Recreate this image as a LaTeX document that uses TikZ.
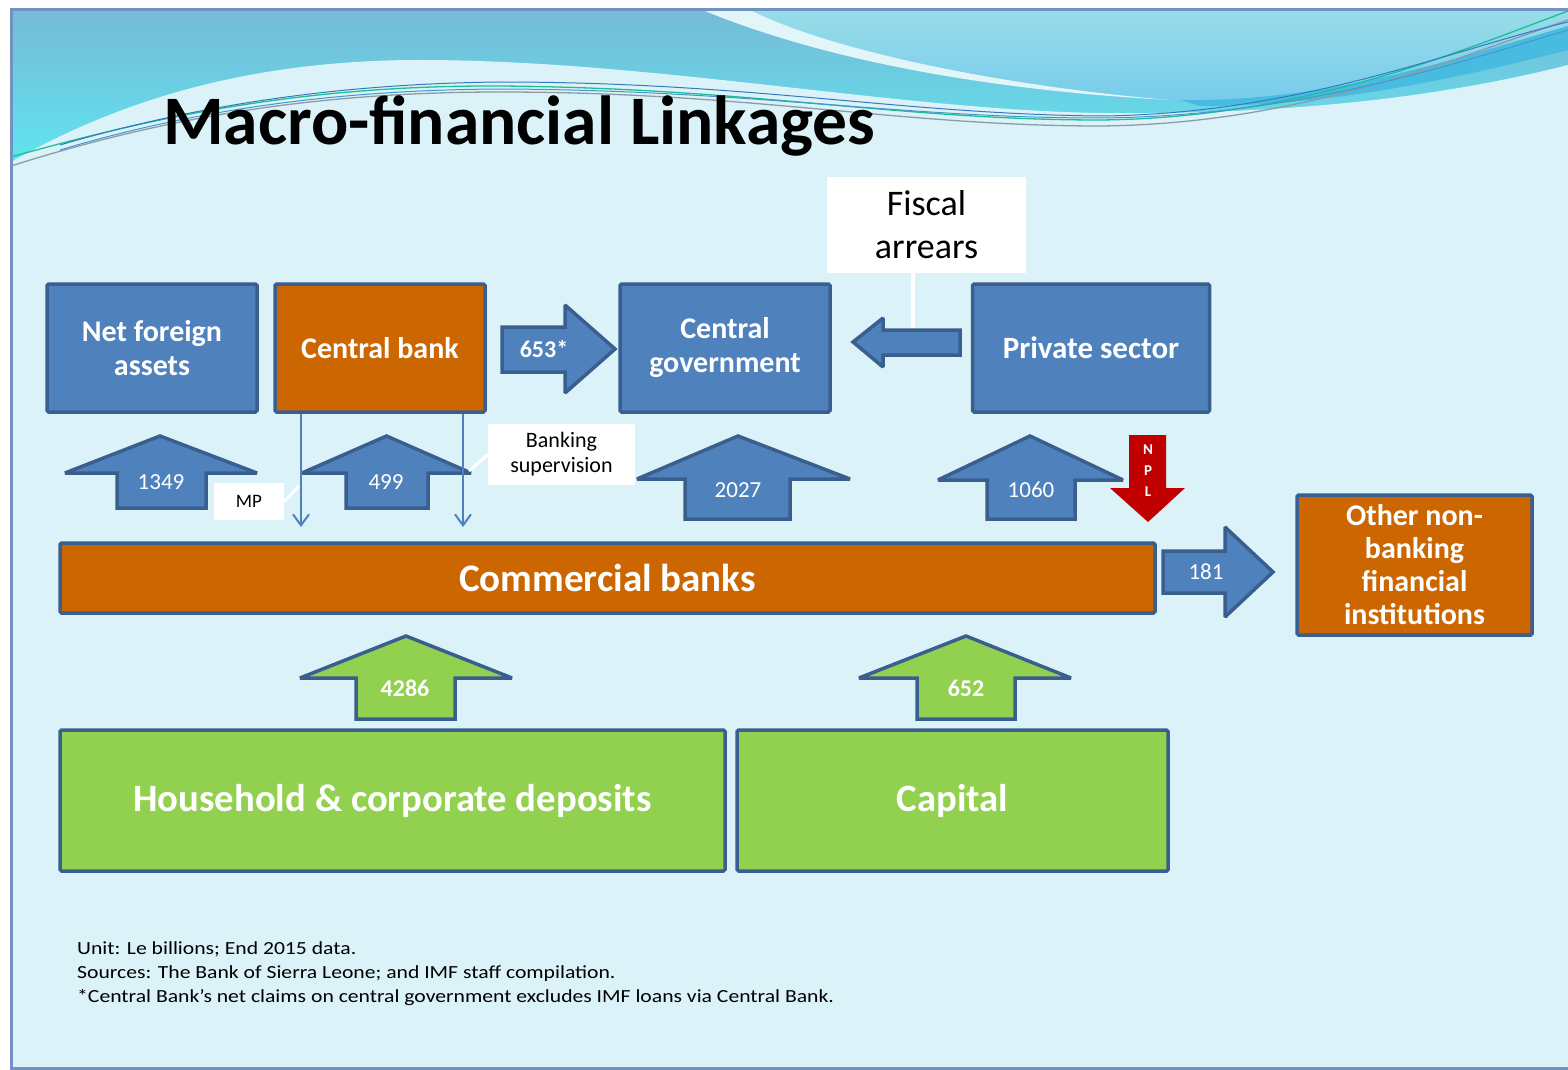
\documentclass[tikz,border=0pt]{standalone}
\usepackage{fontspec}
\setmainfont{Carlito}
\usetikzlibrary{arrows.meta}
\definecolor{bg}{HTML}{DBF3F8}
\definecolor{blu}{HTML}{4F81BD}
\definecolor{bdr}{HTML}{3A5F8E}
\definecolor{org}{HTML}{CC6600}
\definecolor{grn}{HTML}{92D050}
\definecolor{nplred}{HTML}{C00000}
\definecolor{framec}{HTML}{7392C4}
\definecolor{hdrtop}{HTML}{76BBD6}
\definecolor{hdrbot}{HTML}{5EE6F1}
\definecolor{skytop}{HTML}{97DDE8}
\definecolor{skybot}{HTML}{78CBEC}
\definecolor{bandc}{HTML}{48BCE0}
\definecolor{swoosh}{HTML}{E2F6F9}
\tikzset{
  boxbase/.style={draw=bdr, line width=3.5pt, rounded corners=1.5pt, text=white, align=center, inner sep=0pt,
    font=\bfseries\fontsize{30}{34}\selectfont},
  bluebox/.style={boxbase, fill=blu},
  orgbox/.style={boxbase, fill=org},
  grnbox/.style={boxbase, fill=grn, font=\bfseries\fontsize{38.7}{42}\selectfont},
  whitebox/.style={fill=white, text=black, align=center, inner sep=0pt},
  blockarr/.style={draw=bdr, line width=3.5pt, fill=blu, line join=miter, miter limit=2},
  greenarr/.style={blockarr, fill=grn},
  numlbl/.style={text=white, font=\fontsize{23}{26}\selectfont, inner sep=0pt},
  boldnum/.style={text=white, font=\bfseries\fontsize{24}{26}\selectfont, inner sep=0pt},
  vline/.style={draw=blu, line width=2pt, -{Straight Barb[length=11pt,width=16pt,line width=2pt]}},
  callout/.style={draw=white, line width=3pt},
  foot/.style={anchor=west, inner sep=0pt, font=\fontsize{18.5}{20}\selectfont}
}
\newcommand{\footx}[1]{\scalebox{1.17}[1]{#1}}
\begin{document}
\begin{tikzpicture}[x=1pt,y=-1pt]
\useasboundingbox (0,0) rectangle (1568,1070);
\fill[white] (0,0) rectangle (1568,1070);
\fill[bg] (11,11) rectangle (1568,1068);
% ---------- header waves ----------
\begin{scope}
\clip (11,11) rectangle (1568,200);
\shade[top color=hdrtop, bottom color=hdrbot] (11,11) rectangle (1568,170);
\shade[top color=skytop, bottom color=skybot] (722,11) .. controls (850,60) and (1000,95) .. (1180,100)
   .. controls (1330,102) and (1450,60) .. (1568,26) -- (1568,11) -- cycle;
\fill[bandc] (1180,100) .. controls (1330,102) and (1450,60) .. (1568,26) -- (1568,50)
   .. controls (1450,80) and (1330,106) .. (1200,106) -- cycle;
\fill[swoosh] (705,11) .. controls (800,50) and (950,88) .. (1170,100)
   .. controls (1000,86) and (830,50) .. (752,11) -- cycle;
\fill[bg] (11,162) .. controls (120,100) and (250,60) .. (420,60)
   .. controls (650,60) and (900,110) .. (1100,113)
   .. controls (1300,115) and (1450,95) .. (1568,65) -- (1568,210) -- (11,210) -- cycle;
\draw[color={rgb,255:red,30;green,190;blue,150}, line width=1.3pt]
  (11,157) .. controls (150,118) and (300,85) .. (500,86) .. controls (750,88) and (900,120) .. (1100,120)
  .. controls (1300,118) and (1450,55) .. (1568,11);
\draw[color={rgb,255:red,140;green,155;blue,165}, line width=1.3pt]
  (11,166) .. controls (150,122) and (300,92) .. (500,92) .. controls (750,92) and (900,126) .. (1100,126)
  .. controls (1300,124) and (1450,60) .. (1568,20);
\draw[color={rgb,255:red,55;green,120;blue,195}, line width=1pt]
  (60,145) .. controls (180,110) and (320,84) .. (500,82) .. controls (750,82) and (900,114) .. (1100,116)
  .. controls (1300,114) and (1450,50) .. (1568,22);
\draw[color={rgb,255:red,70;green,150;blue,205}, line width=1pt]
  (60,150) .. controls (180,114) and (320,90) .. (500,89) .. controls (750,90) and (900,118) .. (1100,118)
  .. controls (1300,116) and (1450,65) .. (1568,30);
\end{scope}
\draw[framec, line width=3pt] (1570,10) -- (11,10) -- (11,1068) -- (1570,1068);
% ---------- title ----------
\node[anchor=base west, inner sep=0pt, font=\bfseries\fontsize{69.5}{72}\selectfont] (title) at (163,145) {Macro-financial Linkages};
% ---------- top boxes ----------
\node[bluebox, minimum width=210pt, minimum height=128pt] (nfa) at (152,348) {Net foreign\\assets};
\node[orgbox, minimum width=210pt, minimum height=128pt] (cb) at (380,348) {Central bank};
\node[bluebox, minimum width=210pt, minimum height=128pt] (cg) at (725,348) {Central\\government};
\node[bluebox, minimum width=237pt, minimum height=128pt, font=\bfseries\fontsize{31}{34}\selectfont] (ps) at (1091,348) {Private sector};
\node[whitebox, minimum width=199pt, minimum height=96pt, font=\fontsize{36}{43}\selectfont] (fa) at (926.5,225) {Fiscal\\arrears};
% fiscal arrears callout and arrow
\coordinate (fx) at (913,330);
\draw[callout, line width=4pt] (fa.south -| fx) -- (fx);
\draw[blockarr] (960,330) -- (883,330) -- (883,318) -- (853,342) -- (883,367) -- (883,355) -- (960,355) -- cycle;
% 653* arrow
\draw[blockarr] (502,327) -- (565,327) -- (565,305) -- (615,349) -- (565,393) -- (565,372) -- (502,372) -- cycle;
\node[boldnum] (n653) at (544,349) {653*};
% ---------- commercial banks row ----------
\node[orgbox, minimum width=1095pt, minimum height=70pt, font=\bfseries\fontsize{39}{42}\selectfont] (comb) at (607.5,578) {Commercial banks};
\node[orgbox, minimum width=235pt, minimum height=140pt, font=\bfseries\fontsize{30}{33}\selectfont] (onb) at (1414.5,565) {Other non-\\banking\\financial\\institutions};
\draw[blockarr] (1163,551) -- (1225,551) -- (1225,527) -- (1273,572) -- (1225,617) -- (1225,593) -- (1163,593) -- cycle;
\node[numlbl] (n181) at (1206,572) {181};
% ---------- up arrows into commercial banks ----------
\draw[blockarr] (65,473) -- (160,436) -- (257,473) -- (206,473) -- (206,508) -- (117,508) -- (117,473) -- cycle;
\node[numlbl] (n1349) at (161,482) {1349};
\draw[blockarr] (302,473) -- (386.5,436) -- (471,473) -- (428,473) -- (428,508) -- (346,508) -- (346,473) -- cycle;
\node[numlbl] (n499) at (386,482) {499};
\draw[blockarr] (637,479) -- (738,436) -- (850,479) -- (790,479) -- (790,519) -- (685,519) -- (685,479) -- cycle;
\node[numlbl] (n2027) at (738,490) {2027};
\draw[blockarr] (938,480) -- (1030,436) -- (1123,480) -- (1075,480) -- (1075,519) -- (987,519) -- (987,480) -- cycle;
\node[numlbl] (n1060) at (1031,490) {1060};
% NPL arrow
\fill[nplred] (1129,435) -- (1166,435) -- (1166,488) -- (1185,488) -- (1148,522) -- (1110,488) -- (1129,488) -- cycle;
\node[text=white, align=center, inner sep=0pt, font=\bfseries\fontsize{15}{21}\selectfont] (npl) at (1148,471) {N\\P\\L};
% MP and banking supervision
\coordinate (mpx) at (301,527);
\coordinate (bsx) at (463,527);
\draw[vline] (cb.south -| mpx) -- (mpx);
\draw[vline] (cb.south -| bsx) -- (bsx);
\node[whitebox, minimum width=70pt, minimum height=37pt, font=\fontsize{19}{22}\selectfont] (mp) at (249,501.5) {MP};
\node[whitebox, minimum width=147pt, minimum height=61pt, font=\fontsize{22}{25}\selectfont] (bs) at (561.5,454.5) {Banking\\supervision};
\draw[callout] (mp.east) -- (299,486);
\draw[callout] (bs.west) -- (469,471);
% ---------- bottom ----------
\draw[greenarr] (300,678) -- (406,636) -- (512,678) -- (455,678) -- (455,719) -- (356,719) -- (356,678) -- cycle;
\node[boldnum] (n4286) at (405,688) {4286};
\draw[greenarr] (859,678) -- (966,636) -- (1071,678) -- (1015,678) -- (1015,719) -- (917,719) -- (917,678) -- cycle;
\node[boldnum] (n652) at (966,688) {652};
\node[grnbox, minimum width=665pt, minimum height=141pt] (hh) at (392.5,800.5) {Household \& corporate deposits};
\node[grnbox, minimum width=431pt, minimum height=141pt] (cap) at (952.5,800.5) {Capital};
% ---------- footnotes ----------
\node[foot] (f1) at (77,949.5) {\footx{Unit: Le billions; End 2015 data.}};
\node[foot] (f2) at (77,973.5) {\footx{Sources: The Bank of Sierra Leone; and IMF staff compilation.}};
\node[foot] (f3) at (77,997.5) {\footx{*Central Bank’s net claims on central government excludes IMF loans via Central Bank.}};
\end{tikzpicture}
\end{document}
